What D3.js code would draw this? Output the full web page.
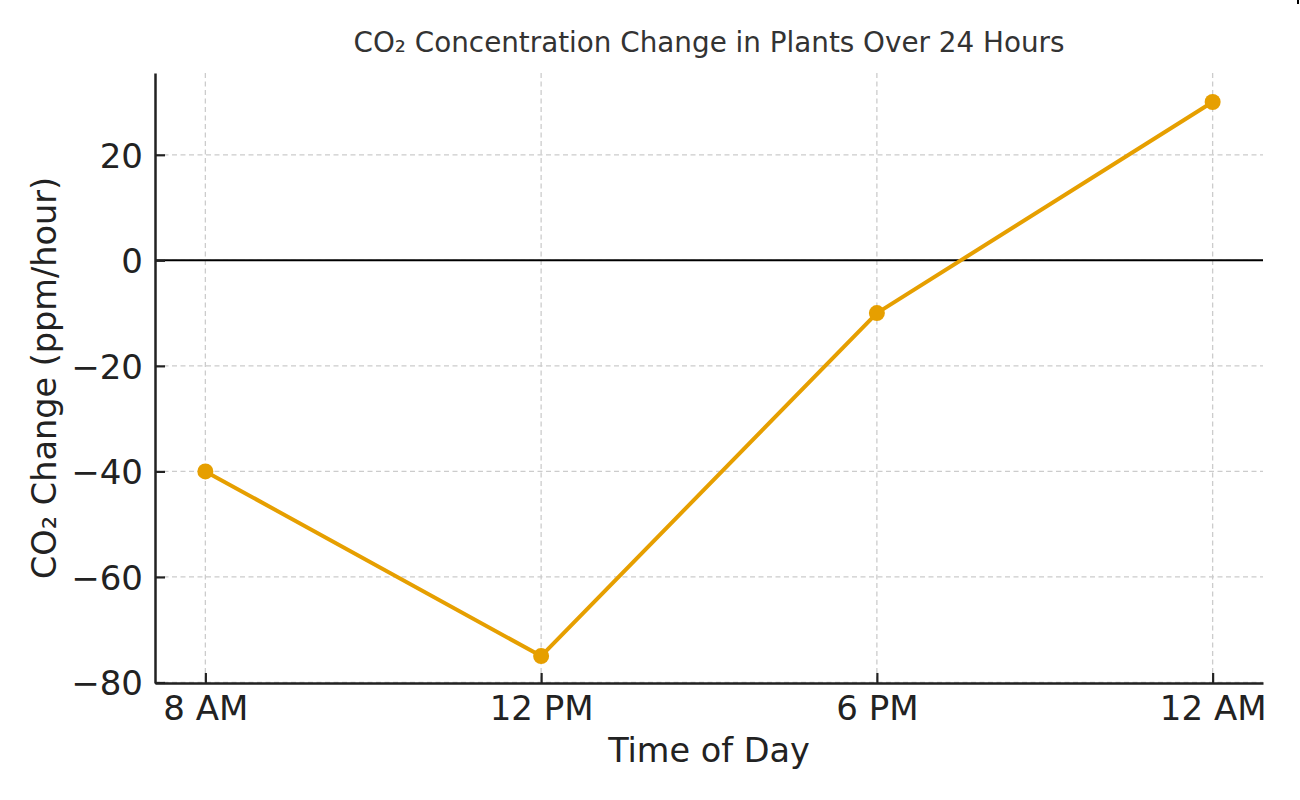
<!DOCTYPE html>
<html>
<head>
<meta charset="utf-8">
<script src="https://cdn.jsdelivr.net/npm/d3@7"></script>
<style>
  body { margin: 0; background: #fff; }
  svg { font-family: "DejaVu Sans", sans-serif; }
</style>
</head>
<body>
<div id="chart-area"></div>
<script>
// data
var times = ["8 AM", "12 PM", "6 PM", "12 AM"];
var co2Change = [-40, -75, -10, 30];
var yTicks = [-80, -60, -40, -20, 0, 20];

var width = 1300, height = 800;
var margin = {left: 155, right: 37, top: 73, bottom: 117};

var svg = d3.select("#chart-area").append("svg")
    .attr("width", width)
    .attr("height", height);

var x = d3.scaleLinear()
    .domain([-0.15, 3.15])
    .range([margin.left, width - margin.right]);

var y = d3.scaleLinear()
    .domain([-80.1, 35.5])
    .range([height - margin.bottom, margin.top]);

var g = svg.append("g");

// grid
g.selectAll(".vgrid").data(times).enter().append("line")
    .attr("x1", (d, i) => x(i)).attr("x2", (d, i) => x(i))
    .attr("y1", y.range()[1]).attr("y2", y.range()[0])
    .attr("stroke", "#cccccc").attr("stroke-width", 1.3)
    .attr("stroke-dasharray", "5,3.5");

g.selectAll(".hgrid").data(yTicks).enter().append("line")
    .attr("x1", x.range()[0]).attr("x2", x.range()[1])
    .attr("y1", d => y(d)).attr("y2", d => y(d))
    .attr("stroke", "#cccccc").attr("stroke-width", 1.3)
    .attr("stroke-dasharray", "5,3.5");

// zero line
g.append("line")
    .attr("x1", x.range()[0]).attr("x2", x.range()[1])
    .attr("y1", y(0)).attr("y2", y(0))
    .attr("stroke", "#000").attr("stroke-width", 2);

// axes with inward ticks
var xAxis = d3.axisBottom(x)
    .tickValues(d3.range(times.length))
    .tickFormat(i => times[i])
    .tickSizeInner(-10).tickSizeOuter(0).tickPadding(13);

var yAxis = d3.axisLeft(y)
    .tickValues(yTicks)
    .tickFormat(d => d < 0 ? "\u2212" + Math.abs(d) : d)
    .tickSizeInner(-10).tickSizeOuter(0).tickPadding(12);

var gx = svg.append("g")
    .attr("transform", "translate(0," + y.range()[0] + ")")
    .call(xAxis);
var gy = svg.append("g")
    .attr("transform", "translate(" + x.range()[0] + ",0)")
    .call(yAxis);

[gx, gy].forEach(a => {
    a.select(".domain").attr("stroke", "#222").attr("stroke-width", 2.5);
    a.selectAll(".tick line").attr("stroke", "#222").attr("stroke-width", 2.2);
    a.selectAll(".tick text").attr("fill", "#222")
        .style("font-size", "34px").style("font-family", "DejaVu Sans");
});
gx.selectAll(".tick text").attr("dy", "0.71em");
gy.selectAll(".tick text").attr("dy", "0.36em");

// line + markers
var line = d3.line()
    .x((d, i) => x(i))
    .y(d => y(d));

svg.append("path")
    .datum(co2Change)
    .attr("d", line)
    .attr("fill", "none")
    .attr("stroke", "#E69F00")
    .attr("stroke-width", 4)
    .attr("stroke-linejoin", "round");

svg.selectAll(".pt").data(co2Change).enter().append("circle")
    .attr("cx", (d, i) => x(i))
    .attr("cy", d => y(d))
    .attr("r", 8)
    .attr("fill", "#E69F00");

// labels
svg.append("text")
    .attr("x", (x.range()[0] + x.range()[1]) / 2)
    .attr("y", 52)
    .attr("text-anchor", "middle")
    .attr("fill", "#333")
    .style("font-size", "27.8px")
    .text("CO\u2082 Concentration Change in Plants Over 24 Hours");

svg.append("text")
    .attr("x", (x.range()[0] + x.range()[1]) / 2)
    .attr("y", 762)
    .attr("text-anchor", "middle")
    .attr("fill", "#222")
    .style("font-size", "33.5px")
    .text("Time of Day");

svg.append("text")
    .attr("transform", "translate(56," + ((y.range()[0] + y.range()[1]) / 2) + ") rotate(-90)")
    .attr("text-anchor", "middle")
    .attr("fill", "#222")
    .style("font-size", "33.5px")
    .text("CO\u2082 Change (ppm/hour)");

// small mark at top-right corner
svg.append("line")
    .attr("x1", 1298).attr("x2", 1298).attr("y1", 0).attr("y2", 4)
    .attr("stroke", "#000").attr("stroke-width", 2);
</script>
</body>
</html>
